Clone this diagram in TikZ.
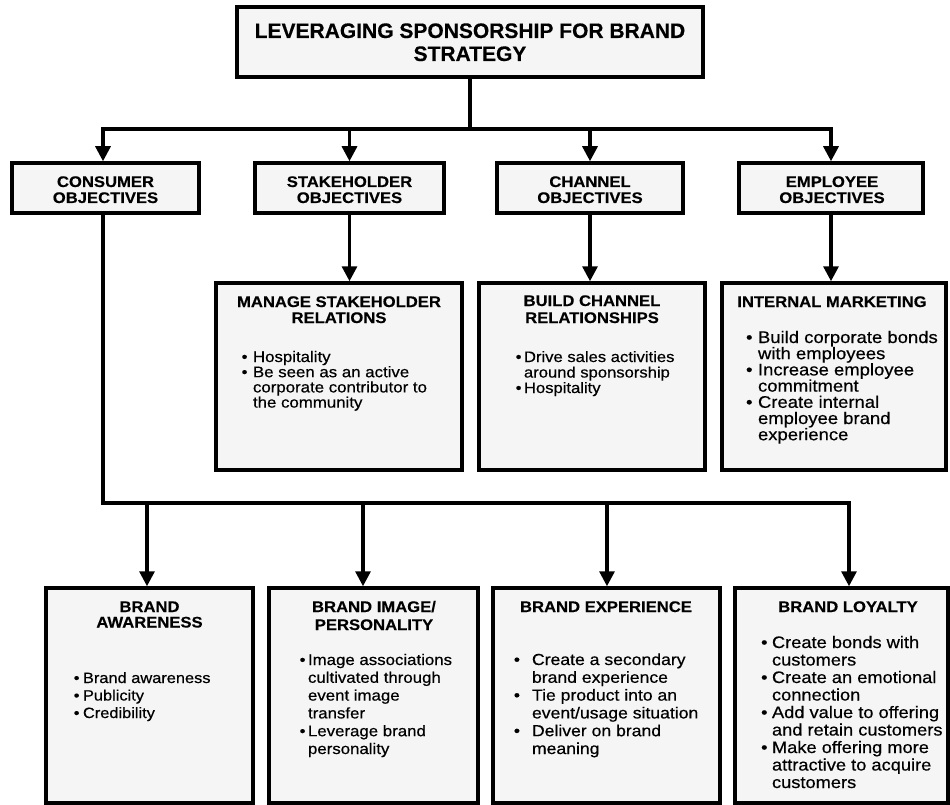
\documentclass[tikz,border=0pt]{standalone}
\usepackage{fontspec}
\setmainfont{Liberation Sans}[FakeBold=0.3]
\newfontfamily\hfam{Liberation Sans}[FakeStretch=1.08,FakeBold=0.3]
\newfontfamily\bfam{Liberation Sans}[FakeStretch=1.1,FakeBold=0.5]
\usetikzlibrary{arrows.meta}
\newlength\bgap
\newcommand\clines[1]{\vtop{\lineskiplimit=-50pt\lineskip=0pt\halign{\hfil##\hfil\cr#1\crcr}}}
\newcommand\llines[1]{\vtop{\lineskiplimit=-50pt\lineskip=0pt\halign{##\hfil\cr#1\crcr}}}
\newcommand\bul{\llap{\textbullet\hspace{\bgap}}}
\newcommand\tfont{\bfseries\fontsize{21}{23}\selectfont}
\newcommand\hf[1]{\hfam\bfseries\fontsize{15.4}{#1}\selectfont}
\newcommand\bodyf[3]{\bfam\fontsize{#1}{#2}\selectfont\setlength\bgap{#3}}
\tikzset{
  box/.style={draw, line width=3.5pt, fill=black!4, inner sep=0pt},
  conn/.style={line width=3.2pt},
  arr/.style={line width=3.2pt, -{Triangle[width=15pt,length=15pt]}},
  txt/.style={inner sep=0pt, outer sep=0pt},
}
\begin{document}
\begin{tikzpicture}[x=1pt,y=-1pt]
\useasboundingbox (0,0) rectangle (950,805);
% boxes
\node[box, minimum width=466pt, minimum height=70pt] (top) at (470,42) {};
\node[box, minimum width=187pt, minimum height=50pt] (cons) at (105.5,188) {};
\node[box, minimum width=189pt, minimum height=50pt] (stak) at (349.5,188) {};
\node[box, minimum width=186pt, minimum height=50pt] (chan) at (590,188) {};
\node[box, minimum width=184pt, minimum height=50pt] (empl) at (831,188) {};
\node[box, minimum width=246pt, minimum height=187pt] (msr) at (339,376.5) {};
\node[box, minimum width=226pt, minimum height=187pt] (bcr) at (592,376.5) {};
\node[box, minimum width=224pt, minimum height=187pt] (im) at (834,376.5) {};
\node[box, minimum width=207pt, minimum height=215pt] (ba) at (149.5,695.5) {};
\node[box, minimum width=209pt, minimum height=215pt] (bi) at (373.5,695.5) {};
\node[box, minimum width=227pt, minimum height=215pt] (be) at (606.5,695.5) {};
\node[box, minimum width=213pt, minimum height=215pt] (bly) at (841.5,695.5) {};
% texts
\node[txt, anchor=base] (topT) at (470,38) {\tfont\clines{LEVERAGING SPONSORSHIP FOR BRAND\cr STRATEGY}};
\node[txt, anchor=base] (consT) at (105.5,187) {\hf{16}\clines{CONSUMER\cr OBJECTIVES}};
\node[txt, anchor=base] (stakT) at (349.5,187) {\hf{16}\clines{STAKEHOLDER\cr OBJECTIVES}};
\node[txt, anchor=base] (chanT) at (590,187) {\hf{16}\clines{CHANNEL\cr OBJECTIVES}};
\node[txt, anchor=base] (emplT) at (832,187) {\hf{16}\clines{EMPLOYEE\cr OBJECTIVES}};
\node[txt, anchor=base] (msrT) at (339,307) {\hf{16}\clines{MANAGE STAKEHOLDER\cr RELATIONS}};
\node[txt, anchor=base] (bcrT) at (592,306) {\hf{17}\clines{BUILD CHANNEL\cr RELATIONSHIPS}};
\node[txt, anchor=base] (imT) at (832,307) {\hf{16}\clines{INTERNAL MARKETING}};
\node[txt, anchor=base] (baT) at (149.5,612) {\hf{15.5}\clines{BRAND\cr AWARENESS}};
\node[txt, anchor=base] (biT) at (374,612) {\hf{18}\clines{BRAND IMAGE/\cr PERSONALITY}};
\node[txt, anchor=base] (beT) at (606,612) {\hf{16}\clines{BRAND EXPERIENCE}};
\node[txt, anchor=base] (blyT) at (848,612) {\hf{16}\clines{BRAND LOYALTY}};
% bodies
\node[txt, anchor=base west] (msrB) at (253,362) {\bodyf{15.3}{15.2}{5.5pt}\llines{\bul Hospitality\cr\bul Be seen as an active\cr corporate contributor to\cr the community}};
\node[txt, anchor=base west] (bcrB) at (524,362) {\bodyf{15.1}{15.5}{2.5pt}\llines{\bul Drive sales activities\cr around sponsorship\cr\bul Hospitality}};
\node[txt, anchor=base west] (imB) at (758,343) {\bodyf{16.8}{16.2}{5.5pt}\llines{\bul Build corporate bonds\cr with employees\cr\bul Increase employee\cr commitment\cr\bul Create internal\cr employee brand\cr experience}};
\node[txt, anchor=base west] (baB) at (83,683) {\bodyf{14.9}{17.5}{3.5pt}\llines{\bul Brand awareness\cr\bul Publicity\cr\bul Credibility}};
\node[txt, anchor=base west] (biB) at (308,665) {\bodyf{15.3}{17.8}{2.5pt}\llines{\bul Image associations\cr cultivated through\cr event image\cr transfer\cr\bul Leverage brand\cr personality}};
\node[txt, anchor=base west] (beB) at (532,665) {\bodyf{16}{17.8}{12pt}\llines{\bul Create a secondary\cr brand experience\cr\bul Tie product into an\cr event/usage situation\cr\bul Deliver on brand\cr meaning}};
\node[txt, anchor=base west] (blyB) at (772,648) {\bodyf{16.6}{17.5}{4.5pt}\llines{\bul Create bonds with\cr customers\cr\bul Create an emotional\cr connection\cr\bul Add value to offering\cr and retain customers\cr\bul Make offering more\cr attractive to acquire\cr customers}};
% connectors
\coordinate (hbar) at (473,129);
\coordinate (cx) at (103,0);
\coordinate (bbar) at (0,503);
\coordinate (d1) at (147,503);
\coordinate (d2) at (363,503);
\coordinate (d3) at (607,503);
\coordinate (d4) at (849,503);
\draw[conn] (top.south) -- (top.south |- hbar);
\draw[conn, line cap=rect] (cx |- hbar) -- (empl.north |- hbar);
\draw[arr] (cx |- hbar) -- (cx |- cons.north);
\draw[arr] (stak.north |- hbar) -- (stak.north);
\draw[arr] (chan.north |- hbar) -- (chan.north);
\draw[arr] (empl.north |- hbar) -- (empl.north);
\draw[arr] (stak.south) -- (stak.south |- msr.north);
\draw[arr] (chan.south) -- (chan.south |- bcr.north);
\draw[arr] (empl.south) -- (empl.south |- im.north);
\draw[conn, line cap=rect] (cx |- cons.south) -- (cx |- bbar) -- (d4);
\draw[arr] (d1) -- (d1 |- ba.north);
\draw[arr] (d2) -- (d2 |- bi.north);
\draw[arr] (d3) -- (d3 |- be.north);
\draw[arr] (d4) -- (d4 |- bly.north);
\end{tikzpicture}
\end{document}
